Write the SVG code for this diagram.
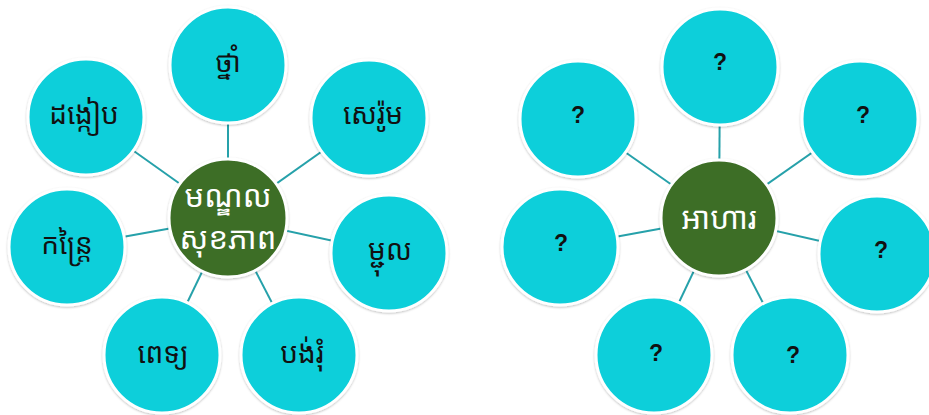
<svg xmlns="http://www.w3.org/2000/svg" width="929" height="415" viewBox="0 0 929 415">
  <style>
    .outer { fill: #0ecfda; stroke: #ffffff; stroke-width: 3; filter: url(#sh); }
    .hub { fill: #3c6e27; stroke: #ffffff; stroke-width: 3; filter: url(#sh); }
    .conn line { stroke: #26a1aa; stroke-width: 2; }
    .kh { font-family: "Noto Sans Khmer", "Khmer OS", "Noto Sans", sans-serif; font-size: 28px; fill: #111111; text-anchor: middle; }
    .khw { font-family: "Noto Sans Khmer", "Khmer OS", "Noto Sans", sans-serif; font-size: 31px; fill: #ffffff; text-anchor: middle; }
    .q { font-family: "Liberation Sans", Arial, sans-serif; font-size: 23px; font-weight: bold; fill: #111111; text-anchor: middle; }
  </style>
  <defs>
    <filter id="sh" x="-20%" y="-20%" width="140%" height="140%">
      <feDropShadow dx="0" dy="1" stdDeviation="1.2" flood-color="#000000" flood-opacity="0.25"/>
    </filter>
  </defs>
  <rect width="929" height="415" fill="#ffffff"/>

  <g id="connectors">
    <g class="conn">
      <line x1="228" y1="218" x2="228" y2="65"/>
      <line x1="228" y1="218" x2="86" y2="117"/>
      <line x1="228" y1="218" x2="369" y2="118"/>
      <line x1="228" y1="218" x2="67" y2="247"/>
      <line x1="228" y1="218" x2="389" y2="253"/>
      <line x1="228" y1="218" x2="162" y2="355"/>
      <line x1="228" y1="218" x2="299" y2="355"/>
      <line x1="719" y1="218" x2="720" y2="67"/>
      <line x1="719" y1="218" x2="578" y2="119"/>
      <line x1="719" y1="218" x2="860" y2="119"/>
      <line x1="719" y1="218" x2="560" y2="247"/>
      <line x1="719" y1="218" x2="877" y2="254"/>
      <line x1="719" y1="218" x2="654" y2="355"/>
      <line x1="719" y1="218" x2="790" y2="355"/>
    </g>
  </g>

  <!-- Left diagram -->
  <g id="l-top"><circle class="outer" cx="228" cy="65" r="58"/><text class="kh" x="228" y="72">ថ្នាំ</text></g>
  <g id="l-tl"><circle class="outer" cx="86" cy="117" r="58"/><text class="kh" x="84" y="124">ដង្កៀប</text></g>
  <g id="l-tr"><circle class="outer" cx="369" cy="118" r="58"/><text class="kh" x="373" y="124">សេរ៉ូម</text></g>
  <g id="l-l"><circle class="outer" cx="67" cy="247" r="58"/><text class="kh" x="67" y="254">កន្ត្រៃ</text></g>
  <g id="l-r"><circle class="outer" cx="389" cy="253" r="58"/><text class="kh" x="390" y="260">ម្ជុល</text></g>
  <g id="l-bl"><circle class="outer" cx="162" cy="355" r="58"/><text class="kh" x="163" y="363">ពេទ្យ</text></g>
  <g id="l-br"><circle class="outer" cx="299" cy="355" r="58"/><text class="kh" x="302" y="363">បង់រុំ</text></g>
  <g id="l-center"><circle class="hub" cx="228" cy="218" r="59"/>
    <text class="khw" x="228" y="207">មណ្ឌល</text>
    <text class="khw" x="228" y="249">សុខភាព</text>
  </g>

  <!-- Right diagram -->
  <g id="r-top"><circle class="outer" cx="720" cy="67" r="58"/><text class="q" x="720" y="70">?</text></g>
  <g id="r-tl"><circle class="outer" cx="578" cy="119" r="58"/><text class="q" x="578" y="123">?</text></g>
  <g id="r-tr"><circle class="outer" cx="860" cy="119" r="58"/><text class="q" x="863" y="123">?</text></g>
  <g id="r-l"><circle class="outer" cx="560" cy="247" r="58"/><text class="q" x="561" y="251">?</text></g>
  <g id="r-r"><circle class="outer" cx="877" cy="254" r="58"/><text class="q" x="881" y="258">?</text></g>
  <g id="r-bl"><circle class="outer" cx="654" cy="355" r="58"/><text class="q" x="656" y="361">?</text></g>
  <g id="r-br"><circle class="outer" cx="790" cy="355" r="58"/><text class="q" x="793" y="363">?</text></g>
  <g id="r-center"><circle class="hub" cx="719" cy="218" r="58"/>
    <text class="khw" x="719" y="229">អាហារ</text>
  </g>
</svg>
